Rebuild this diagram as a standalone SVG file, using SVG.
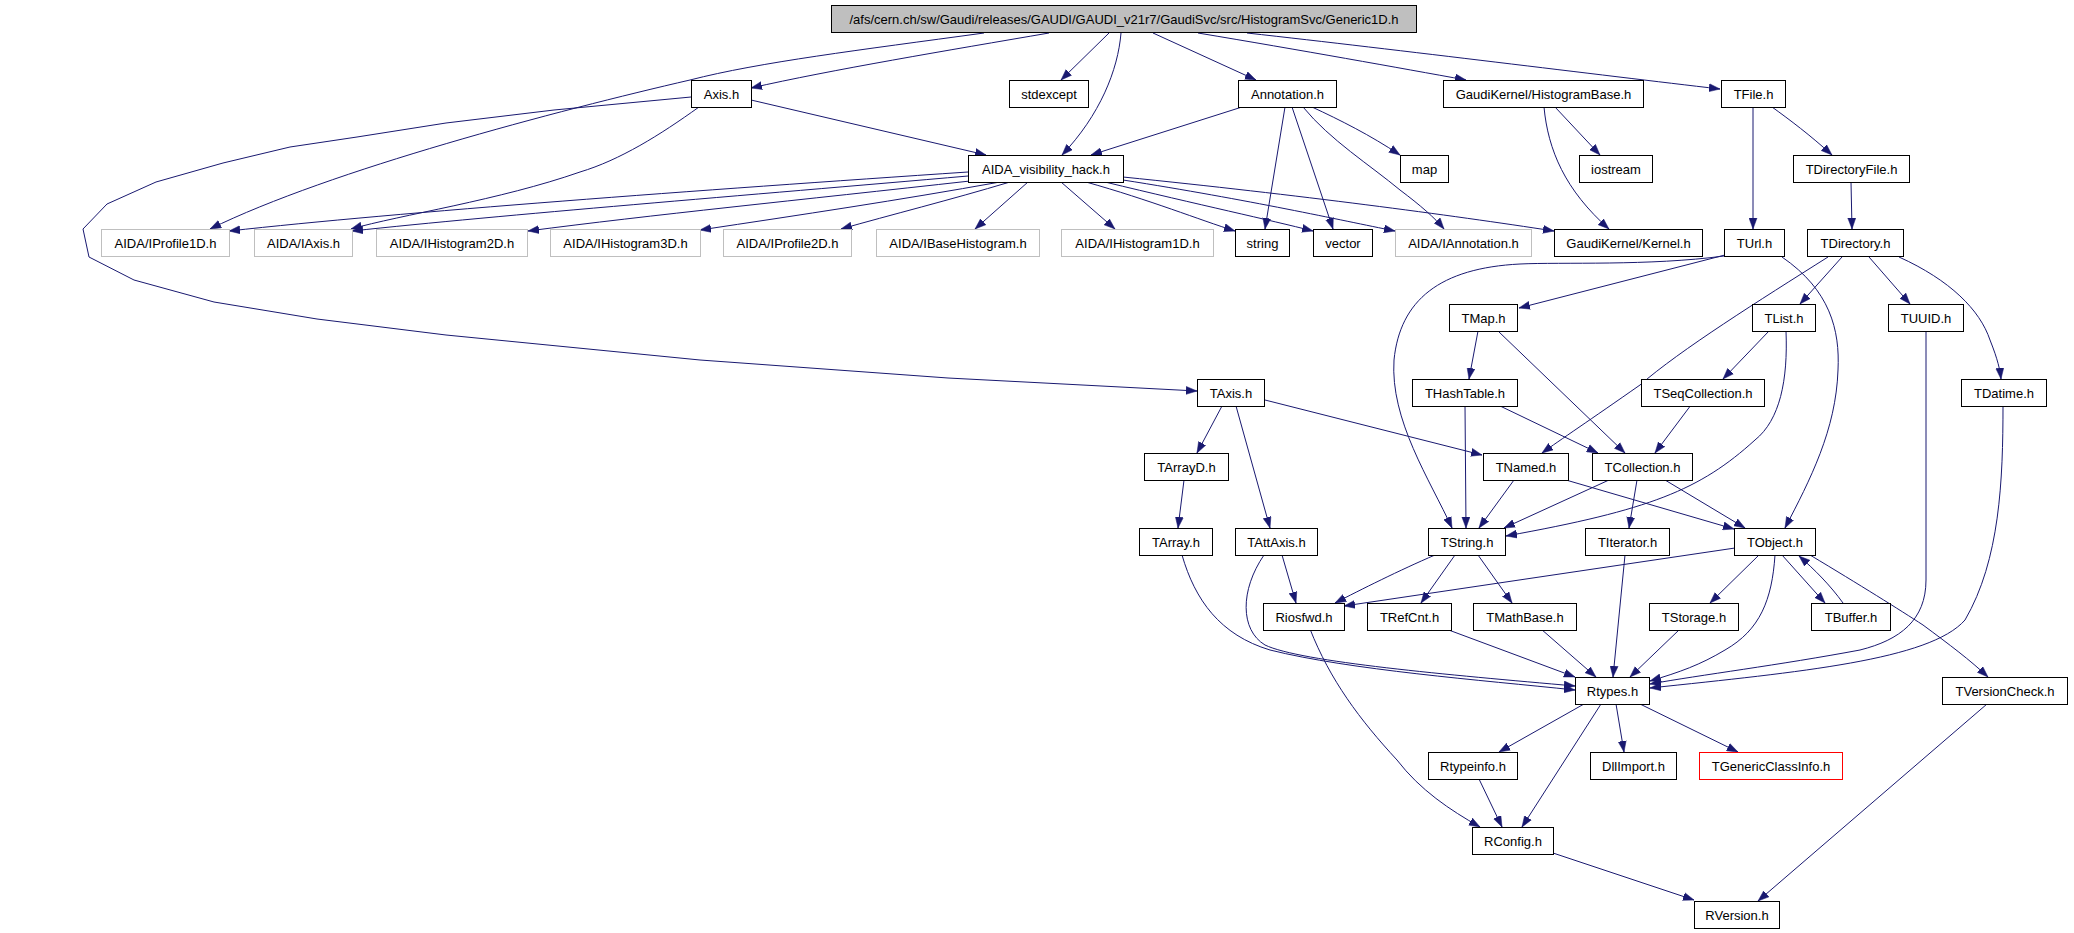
<svg xmlns="http://www.w3.org/2000/svg" width="2074" height="933" viewBox="0 0 2074 933">
<style>
.e path{fill:none;stroke:#191970;stroke-width:1;marker-end:url(#ah)}
.n rect{fill:#fff;stroke:#000;stroke-width:1}
.n.g rect{stroke:#bfbfbf}
.n.r rect{stroke:#ff0000}
.n.root rect{fill:#bfbfbf}
.n text{font-family:"Liberation Sans",Arial,Helvetica,sans-serif;font-size:13px;fill:#000;text-anchor:middle}
</style>
<defs>
<marker id="ah" markerUnits="userSpaceOnUse" markerWidth="12" markerHeight="9" refX="11" refY="4.5" orient="auto">
<path d="M0,0.5 L11,4.5 L0,8.5 z" fill="#191970" stroke="#191970" stroke-width="0.5"/>
</marker>
</defs>
<rect width="2074" height="933" fill="#fff"/>
<g id="connectors" class="e">
<path d="M1049,33 C950,50 830,70 751,88"/>
<path d="M984,33 C860,50 760,62 690,80 C560,110 330,170 210,229"/>
<path d="M1109,33 L1061,80"/>
<path d="M1121,33 C1118,70 1100,115 1062,155"/>
<path d="M1153,33 L1256,80"/>
<path d="M1198,33 C1300,50 1400,68 1466,80"/>
<path d="M1247,33 C1400,50 1600,75 1720,89"/>
<path d="M751,100 L986,155"/>
<path d="M699,107 C660,135 620,160 580,172 C500,200 400,215 351,229"/>
<path d="M691,97 L554,110 L446,123 L357,137 L290,147 L223,163 L156,182 L107,204 L83,229 L89,257 L134,280 L214,302 L317,319 L446,335 L700,360 L948,378 L1197,391"/>
<path d="M1242,107 L1091,155"/>
<path d="M1285,107 L1265,229"/>
<path d="M1292,107 L1333,229"/>
<path d="M1312,107 C1340,120 1370,135 1400,155"/>
<path d="M1303,107 C1330,140 1370,165 1400,190 C1420,205 1435,218 1444,229"/>
<path d="M968,172 C700,190 400,212 229,231"/>
<path d="M968,176 C750,195 500,215 352,231"/>
<path d="M970,181 C800,200 650,215 528,231"/>
<path d="M1000,182 C900,200 800,215 700,230"/>
<path d="M1010,182 C950,200 890,215 841,229"/>
<path d="M1028,182 L975,229"/>
<path d="M1061,182 L1115,229"/>
<path d="M1086,182 C1150,200 1200,220 1235,231"/>
<path d="M1105,182 C1200,205 1270,220 1313,231"/>
<path d="M1123,180 C1250,200 1340,220 1395,231"/>
<path d="M1123,177 C1300,195 1450,215 1554,231"/>
<path d="M1555,107 L1600,155"/>
<path d="M1544,107 C1548,150 1565,190 1609,229"/>
<path d="M1753,107 L1753,229"/>
<path d="M1772,107 C1790,120 1810,135 1832,155"/>
<path d="M1851,182 L1852,229"/>
<path d="M1725,255 L1519,308"/>
<path d="M1724,256 C1650,266 1560,262 1520,264 C1440,268 1400,300 1394,360 C1390,420 1430,480 1452,528"/>
<path d="M1782,257 C1830,290 1840,330 1838,370 C1836,430 1810,480 1785,528"/>
<path d="M1828,257 C1760,300 1680,350 1640,385 C1590,420 1560,440 1542,453"/>
<path d="M1842,257 L1800,304"/>
<path d="M1869,257 L1910,304"/>
<path d="M1899,257 C1950,280 1980,310 1990,340 C1998,360 2000,370 2001,379"/>
<path d="M1478,331 L1469,379"/>
<path d="M1498,331 L1625,453"/>
<path d="M1769,331 L1723,379"/>
<path d="M1786,331 C1788,380 1780,420 1755,440 C1700,490 1650,510 1506,536"/>
<path d="M1926,331 L1926,580 C1926,620 1900,640 1860,650 C1780,665 1700,675 1650,684"/>
<path d="M2003,405 C2003,480 2000,560 1965,620 C1930,660 1800,672 1650,688"/>
<path d="M1465,405 L1466,528"/>
<path d="M1498,405 L1598,453"/>
<path d="M1691,405 L1655,453"/>
<path d="M1222,406 L1197,453"/>
<path d="M1236,406 L1270,528"/>
<path d="M1265,400 L1482,455"/>
<path d="M1184,480 L1178,528"/>
<path d="M1514,480 L1479,528"/>
<path d="M1566,480 L1734,529"/>
<path d="M1609,480 L1504,528"/>
<path d="M1637,480 L1629,528"/>
<path d="M1665,480 L1745,528"/>
<path d="M1182,555 C1195,600 1220,635 1270,650 C1350,670 1480,680 1575,690"/>
<path d="M1282,555 L1296,603"/>
<path d="M1264,555 C1240,590 1240,630 1265,645 C1300,662 1450,675 1575,686"/>
<path d="M1435,555 C1400,570 1360,590 1335,603"/>
<path d="M1455,555 L1421,603"/>
<path d="M1478,555 L1512,603"/>
<path d="M1735,548 L1344,606"/>
<path d="M1625,555 L1613,677"/>
<path d="M1446,629 L1575,677"/>
<path d="M1541,629 L1596,677"/>
<path d="M1680,629 L1630,677"/>
<path d="M1759,555 L1710,603"/>
<path d="M1775,555 C1772,600 1760,630 1725,650 C1700,665 1680,672 1650,681"/>
<path d="M1782,555 L1825,603"/>
<path d="M1843,603 C1830,585 1815,570 1799,556"/>
<path d="M1810,555 C1860,585 1900,610 1923,625 C1950,645 1970,660 1988,677"/>
<path d="M1987,704 L1758,901"/>
<path d="M1584,704 L1499,752"/>
<path d="M1601,704 L1522,827"/>
<path d="M1616,704 L1624,752"/>
<path d="M1640,704 L1738,752"/>
<path d="M1479,779 L1502,827"/>
<path d="M1310,629 C1330,680 1360,720 1397,760 C1420,790 1450,810 1480,827"/>
<path d="M1553,853 L1694,900"/>
</g>
<g id="node-root" class="n root"><rect x="831.5" y="5.5" width="585" height="27"/><text x="1124" y="23.5">/afs/cern.ch/sw/Gaudi/releases/GAUDI/GAUDI_v21r7/GaudiSvc/src/HistogramSvc/Generic1D.h</text></g>
<g id="node-axis" class="n"><rect x="691.5" y="80.5" width="60" height="27"/><text x="721.5" y="98.5">Axis.h</text></g>
<g id="node-stdexcept" class="n"><rect x="1009.5" y="80.5" width="79" height="27"/><text x="1049" y="98.5">stdexcept</text></g>
<g id="node-annotation" class="n"><rect x="1238.5" y="80.5" width="98" height="27"/><text x="1287.5" y="98.5">Annotation.h</text></g>
<g id="node-histogrambase" class="n"><rect x="1443.5" y="80.5" width="200" height="27"/><text x="1543.5" y="98.5">GaudiKernel/HistogramBase.h</text></g>
<g id="node-tfile" class="n"><rect x="1721.5" y="80.5" width="64" height="27"/><text x="1753.5" y="98.5">TFile.h</text></g>
<g id="node-aidavis" class="n"><rect x="968.5" y="155.5" width="155" height="27"/><text x="1046" y="173.5">AIDA_visibility_hack.h</text></g>
<g id="node-map" class="n"><rect x="1400.5" y="155.5" width="48" height="27"/><text x="1424.5" y="173.5">map</text></g>
<g id="node-iostream" class="n"><rect x="1579.5" y="155.5" width="73" height="27"/><text x="1616" y="173.5">iostream</text></g>
<g id="node-tdirectoryfile" class="n"><rect x="1793.5" y="155.5" width="116" height="27"/><text x="1851.5" y="173.5">TDirectoryFile.h</text></g>
<g id="node-iprofile1d" class="n g"><rect x="101.5" y="229.5" width="128" height="27"/><text x="165.5" y="247.5">AIDA/IProfile1D.h</text></g>
<g id="node-iaxis" class="n g"><rect x="254.5" y="229.5" width="98" height="27"/><text x="303.5" y="247.5">AIDA/IAxis.h</text></g>
<g id="node-ihistogram2d" class="n g"><rect x="376.5" y="229.5" width="151" height="27"/><text x="452" y="247.5">AIDA/IHistogram2D.h</text></g>
<g id="node-ihistogram3d" class="n g"><rect x="550.5" y="229.5" width="150" height="27"/><text x="625.5" y="247.5">AIDA/IHistogram3D.h</text></g>
<g id="node-iprofile2d" class="n g"><rect x="723.5" y="229.5" width="128" height="27"/><text x="787.5" y="247.5">AIDA/IProfile2D.h</text></g>
<g id="node-ibasehistogram" class="n g"><rect x="876.5" y="229.5" width="163" height="27"/><text x="958" y="247.5">AIDA/IBaseHistogram.h</text></g>
<g id="node-ihistogram1d" class="n g"><rect x="1061.5" y="229.5" width="152" height="27"/><text x="1137.5" y="247.5">AIDA/IHistogram1D.h</text></g>
<g id="node-string" class="n"><rect x="1235.5" y="229.5" width="54" height="27"/><text x="1262.5" y="247.5">string</text></g>
<g id="node-vector" class="n"><rect x="1313.5" y="229.5" width="59" height="27"/><text x="1343" y="247.5">vector</text></g>
<g id="node-iannotation" class="n g"><rect x="1395.5" y="229.5" width="136" height="27"/><text x="1463.5" y="247.5">AIDA/IAnnotation.h</text></g>
<g id="node-kernel" class="n"><rect x="1554.5" y="229.5" width="148" height="27"/><text x="1628.5" y="247.5">GaudiKernel/Kernel.h</text></g>
<g id="node-turl" class="n"><rect x="1724.5" y="229.5" width="60" height="27"/><text x="1754.5" y="247.5">TUrl.h</text></g>
<g id="node-tdirectory" class="n"><rect x="1807.5" y="229.5" width="96" height="27"/><text x="1855.5" y="247.5">TDirectory.h</text></g>
<g id="node-tmap" class="n"><rect x="1449.5" y="304.5" width="68" height="27"/><text x="1483.5" y="322.5">TMap.h</text></g>
<g id="node-tlist" class="n"><rect x="1752.5" y="304.5" width="63" height="27"/><text x="1784" y="322.5">TList.h</text></g>
<g id="node-tuuid" class="n"><rect x="1888.5" y="304.5" width="75" height="27"/><text x="1926" y="322.5">TUUID.h</text></g>
<g id="node-taxis" class="n"><rect x="1197.5" y="379.5" width="67" height="27"/><text x="1231" y="397.5">TAxis.h</text></g>
<g id="node-thashtable" class="n"><rect x="1412.5" y="379.5" width="105" height="27"/><text x="1465" y="397.5">THashTable.h</text></g>
<g id="node-tseqcollection" class="n"><rect x="1641.5" y="379.5" width="123" height="27"/><text x="1703" y="397.5">TSeqCollection.h</text></g>
<g id="node-tdatime" class="n"><rect x="1961.5" y="379.5" width="85" height="27"/><text x="2004" y="397.5">TDatime.h</text></g>
<g id="node-tarrayd" class="n"><rect x="1144.5" y="453.5" width="84" height="27"/><text x="1186.5" y="471.5">TArrayD.h</text></g>
<g id="node-tnamed" class="n"><rect x="1483.5" y="453.5" width="85" height="27"/><text x="1526" y="471.5">TNamed.h</text></g>
<g id="node-tcollection" class="n"><rect x="1592.5" y="453.5" width="100" height="27"/><text x="1642.5" y="471.5">TCollection.h</text></g>
<g id="node-tarray" class="n"><rect x="1139.5" y="528.5" width="73" height="27"/><text x="1176" y="546.5">TArray.h</text></g>
<g id="node-tattaxis" class="n"><rect x="1235.5" y="528.5" width="82" height="27"/><text x="1276.5" y="546.5">TAttAxis.h</text></g>
<g id="node-tstring" class="n"><rect x="1428.5" y="528.5" width="77" height="27"/><text x="1467" y="546.5">TString.h</text></g>
<g id="node-titerator" class="n"><rect x="1585.5" y="528.5" width="84" height="27"/><text x="1627.5" y="546.5">TIterator.h</text></g>
<g id="node-tobject" class="n"><rect x="1734.5" y="528.5" width="81" height="27"/><text x="1775" y="546.5">TObject.h</text></g>
<g id="node-riosfwd" class="n"><rect x="1263.5" y="603.5" width="81" height="27"/><text x="1304" y="621.5">Riosfwd.h</text></g>
<g id="node-trefcnt" class="n"><rect x="1367.5" y="603.5" width="84" height="27"/><text x="1409.5" y="621.5">TRefCnt.h</text></g>
<g id="node-tmathbase" class="n"><rect x="1473.5" y="603.5" width="103" height="27"/><text x="1525" y="621.5">TMathBase.h</text></g>
<g id="node-tstorage" class="n"><rect x="1649.5" y="603.5" width="89" height="27"/><text x="1694" y="621.5">TStorage.h</text></g>
<g id="node-tbuffer" class="n"><rect x="1811.5" y="603.5" width="79" height="27"/><text x="1851" y="621.5">TBuffer.h</text></g>
<g id="node-rtypes" class="n"><rect x="1575.5" y="677.5" width="74" height="27"/><text x="1612.5" y="695.5">Rtypes.h</text></g>
<g id="node-tversioncheck" class="n"><rect x="1942.5" y="677.5" width="125" height="27"/><text x="2005" y="695.5">TVersionCheck.h</text></g>
<g id="node-rtypeinfo" class="n"><rect x="1428.5" y="752.5" width="89" height="27"/><text x="1473" y="770.5">Rtypeinfo.h</text></g>
<g id="node-dllimport" class="n"><rect x="1590.5" y="752.5" width="86" height="27"/><text x="1633.5" y="770.5">DllImport.h</text></g>
<g id="node-tgenericclassinfo" class="n r"><rect x="1699.5" y="752.5" width="143" height="27"/><text x="1771" y="770.5">TGenericClassInfo.h</text></g>
<g id="node-rconfig" class="n"><rect x="1472.5" y="827.5" width="81" height="27"/><text x="1513" y="845.5">RConfig.h</text></g>
<g id="node-rversion" class="n"><rect x="1694.5" y="901.5" width="85" height="27"/><text x="1737" y="919.5">RVersion.h</text></g>
</svg>
